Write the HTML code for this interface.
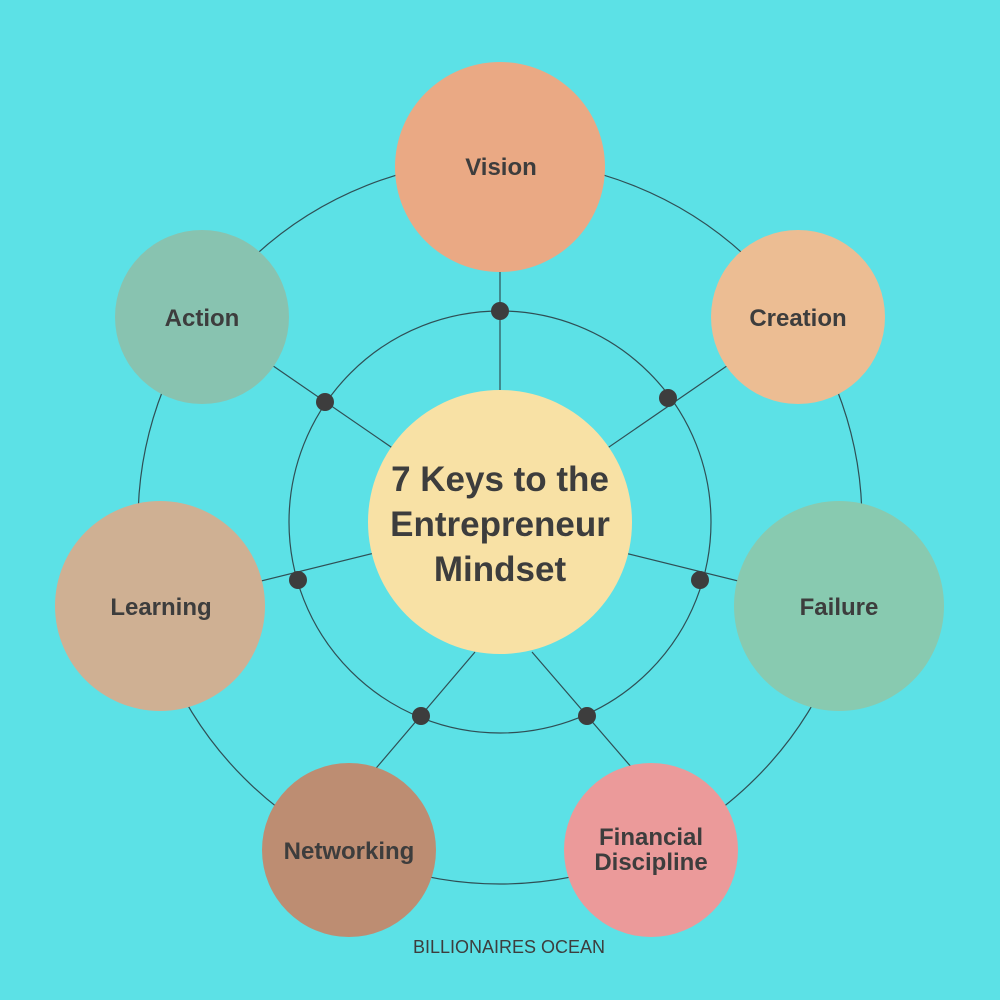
<!DOCTYPE html>
<html><head><meta charset="utf-8"><style>
html,body{margin:0;padding:0;background:#5ce1e6;}
svg{display:block}
text{font-family:"Liberation Sans",sans-serif;fill:#3d3d3d;font-weight:bold;text-anchor:middle;}
</style></head><body>
<svg width="1000" height="1000" viewBox="0 0 1000 1000">
<rect width="1000" height="1000" fill="#5ce1e6"/>
<g stroke="#2f4f55" stroke-width="1.2" fill="none">
<circle cx="500" cy="522" r="362"/>
<circle cx="500" cy="522" r="211"/>
<line x1="500" y1="522" x2="500" y2="167"/>
<line x1="500" y1="522" x2="798" y2="317"/>
<line x1="500" y1="522" x2="202" y2="317"/>
<line x1="500" y1="522" x2="160" y2="606"/>
<line x1="500" y1="522" x2="839" y2="606"/>
<line x1="475" y1="652" x2="349" y2="800"/>
<line x1="532" y1="652" x2="651" y2="790"/>
</g>
<g fill="#3d3d3d">
<circle cx="500" cy="311" r="9"/>
<circle cx="668" cy="398" r="9"/>
<circle cx="325" cy="402" r="9"/>
<circle cx="298" cy="580" r="9"/>
<circle cx="700" cy="580" r="9"/>
<circle cx="421" cy="716" r="9"/>
<circle cx="587" cy="716" r="9"/>
</g>
<circle cx="500" cy="522" r="132" fill="#f8e1a5"/>
<circle cx="500" cy="167" r="105" fill="#eaa984"/>
<circle cx="798" cy="317" r="87" fill="#ecbd93"/>
<circle cx="202" cy="317" r="87" fill="#88c3b0"/>
<circle cx="160" cy="606" r="105" fill="#cfb093"/>
<circle cx="839" cy="606" r="105" fill="#88cab0"/>
<circle cx="349" cy="850" r="87" fill="#bd8d72"/>
<circle cx="651" cy="850" r="87" fill="#eb9a9a"/>
<text x="500" y="491" font-size="35">7 Keys to the</text>
<text x="500" y="536" font-size="35">Entrepreneur</text>
<text x="500" y="581" font-size="35">Mindset</text>
<text x="501" y="175" font-size="24">Vision</text>
<text x="798" y="326" font-size="24">Creation</text>
<text x="202" y="326" font-size="24">Action</text>
<text x="161" y="615" font-size="24">Learning</text>
<text x="839" y="615" font-size="24">Failure</text>
<text x="349" y="859" font-size="24">Networking</text>
<text x="651" y="845" font-size="24">Financial</text>
<text x="651" y="870" font-size="24">Discipline</text>
<text x="509" y="953" font-size="18" style="font-weight:normal">BILLIONAIRES OCEAN</text>
</svg>
</body></html>
